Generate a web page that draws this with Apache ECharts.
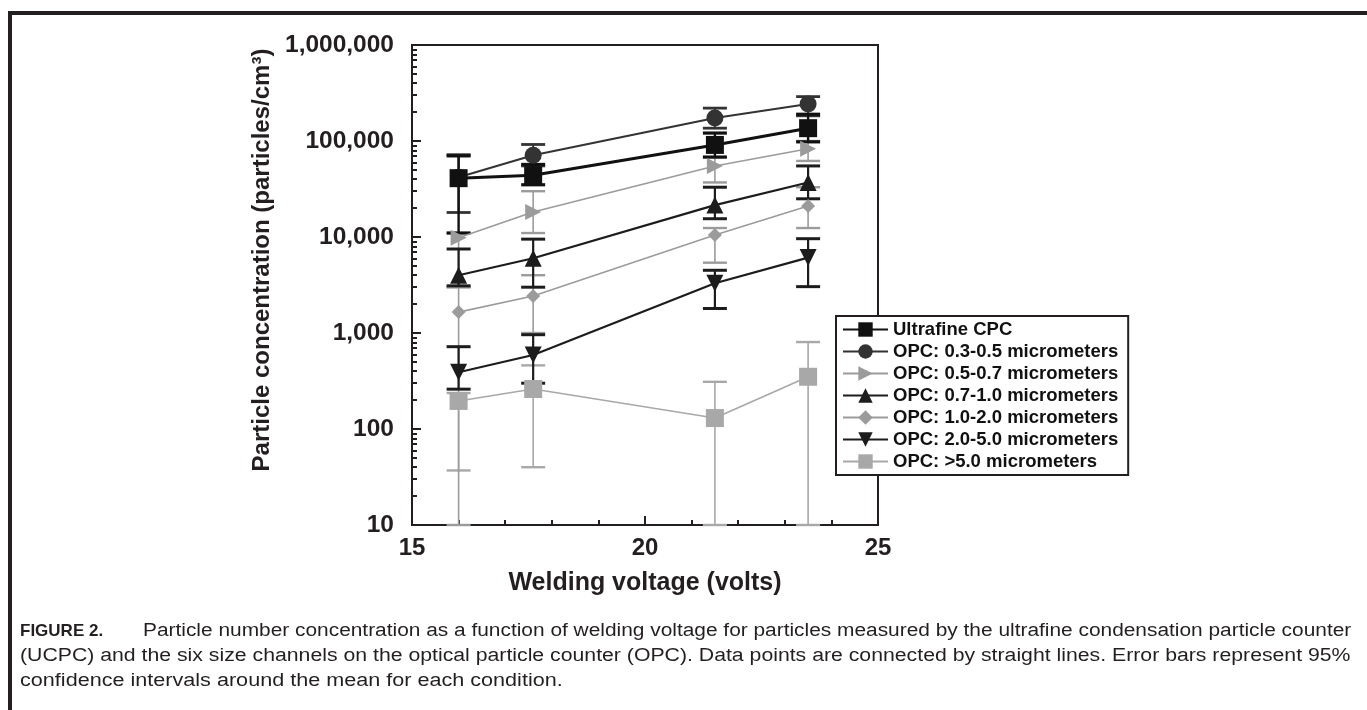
<!DOCTYPE html>
<html>
<head>
<meta charset="utf-8">
<script src="https://cdn.jsdelivr.net/npm/echarts@6/dist/echarts.min.js"></script>
<style>
  html, body { margin: 0; padding: 0; background: #fff; }
  #chart { width: 1367px; height: 710px; }
</style>
</head>
<body>
<div id="chart"></div>
<script>
// welding voltage (volts)
const voltage = [16, 17.6, 21.5, 23.5]

const seriesNames = [
    'Ultrafine CPC',
    'OPC: 0.3-0.5 micrometers',
    'OPC: 0.5-0.7 micrometers',
    'OPC: 0.7-1.0 micrometers',
    'OPC: 1.0-2.0 micrometers',
    'OPC: 2.0-5.0 micrometers',
    'OPC: >5.0 micrometers'
]

// mean concentration (particles/cm3)
const ucpc   = [41000, 44000, 91000, 136000]
const opc03  = [42000, 71000, 174000, 243000]
const opc05  = [9800, 18200, 55000, 83000]
const opc07  = [4000, 6000, 21500, 37000]
const opc10  = [1650, 2430, 10500, 21000]
const opc20  = [390, 590, 3300, 6100]
const opc50  = [196, 261, 130, 350]

// 95% confidence interval, low / high
const ucpcLo  = [11000, 35000, 68000, 98000]
const ucpcHi  = [70000, 57000, 121000, 190000]
const opc03Lo = [18000, 55000, 136000, 183000]
const opc03Hi = [72000, 92000, 220000, 290000]
const opc05Lo = [3000, 11000, 37000, 62000]
const opc05Hi = [11000, 30000, 68000, 100000]
const opc07Lo = [3100, 3000, 15500, 25000]
const opc07Hi = [7500, 9500, 33000, 55000]
const opc10Lo = [5, 1000, 5400, 12400]
const opc10Hi = [3000, 4000, 12400, 33000]
const opc20Lo = [260, 300, 1800, 3040]
const opc20Hi = [720, 960, 4500, 9600]
const opc50Lo = [37, 40, 5, 5]
const opc50Hi = [237, 460, 310, 805]

const yTicks = [10, 100, 1000, 10000, 100000, 1000000]
const yTickLabels = ['10', '100', '1,000', '10,000', '100,000', '1,000,000']
const xTicks = [15, 20, 25]
const xTickLabels = ['15', '20', '25']

const means = [ucpc, opc03, opc05, opc07, opc10, opc20, opc50]
const lows = [ucpcLo, opc03Lo, opc05Lo, opc07Lo, opc10Lo, opc20Lo, opc50Lo]
const highs = [ucpcHi, opc03Hi, opc05Hi, opc07Hi, opc10Hi, opc20Hi, opc50Hi]

const captionLines = [
    'Particle number concentration as a function of welding voltage for particles measured by the ultrafine condensation particle counter',
    '(UCPC) and the six size channels on the optical particle counter (OPC). Data points are connected by straight lines. Error bars represent 95%',
    'confidence intervals around the mean for each condition.'
]

const ink = '#231f20'
const dark = '#1c1c1c'
const gray = '#9b9b9b'

const looks = [
    {color: '#111', symbol: 'rect', size: 18, rotate: 0, width: 3},
    {color: '#333', symbol: 'circle', size: 17, rotate: 0, width: 2},
    {color: gray, symbol: 'triangle', size: 16, rotate: -90, width: 1.6},
    {color: dark, symbol: 'triangle', size: 17, rotate: 0, width: 2.2},
    {color: gray, symbol: 'diamond', size: 14, rotate: 0, width: 1.6},
    {color: dark, symbol: 'triangle', size: 17, rotate: 180, width: 2.2},
    {color: '#a8a8a8', symbol: 'rect', size: 18, rotate: 0, width: 1.6}
]

// minor ticks at 2..9 of each decade
const minorTicks = []
for (let d = 10; d < 1000000; d *= 10) {
    for (let k = 2; k <= 9; k++) minorTicks.push(d * k)
}

const yMin = 10

function errorBars(color, width) {
    return function (params, api) {
        const x = api.value(0)
        const lo = Math.max(api.value(1), yMin)
        const hi = api.value(2)
        const top = api.coord([x, hi])
        const bot = api.coord([x, lo])
        const hw = 12
        const style = {stroke: color, lineWidth: width}
        const capStyle = {stroke: color, lineWidth: width + 0.8}
        return {
            type: 'group',
            children: [
                {type: 'line', shape: {x1: top[0], y1: top[1], x2: bot[0], y2: bot[1]}, style},
                {type: 'line', shape: {x1: top[0] - hw, y1: top[1], x2: top[0] + hw, y2: top[1]}, style: capStyle},
                {type: 'line', shape: {x1: bot[0] - hw, y1: bot[1], x2: bot[0] + hw, y2: bot[1]}, style: capStyle}
            ]
        }
    }
}

const series = []
// error bars first, light ones below dark ones
const order = [6, 4, 2, 5, 3, 1, 0]
order.forEach(i => {
    series.push({
        type: 'custom',
        name: 'err' + i,
        renderItem: errorBars(looks[i].color, looks[i].width === 3 ? 2.4 : looks[i].width),
        encode: {x: 0, y: [1, 2]},
        data: voltage.map((v, j) => [v, lows[i][j], highs[i][j]]),
        z: 2,
        silent: true
    })
})
order.forEach(i => {
    series.push({
        type: 'line',
        name: seriesNames[i],
        data: voltage.map((v, j) => [v, means[i][j]]),
        symbol: looks[i].symbol,
        symbolSize: looks[i].size,
        symbolRotate: looks[i].rotate,
        itemStyle: {color: looks[i].color},
        lineStyle: {color: looks[i].color, width: looks[i].width},
        z: 3
    })
})

const captionScale = [1.16, 1.18, 1.2]
const captionText = captionLines.map((line, k) => ({
    type: 'text',
    x: k === 0 ? 143 : 20,
    y: 631 + 25 * k,
    scaleX: captionScale[k],
    style: {
        text: line,
        font: '18px "Liberation Sans"',
        fill: ink,
        verticalAlign: 'middle'
    }
}))

const myChart = echarts.init(document.getElementById('chart'))

const option = {
    animation: false,
    backgroundColor: '#fff',
    grid: {
        left: 412,
        right: 489,
        top: 45,
        bottom: 185,
        show: true,
        borderColor: ink,
        borderWidth: 2,
        backgroundColor: 'transparent'
    },
    legend: {
        orient: 'vertical',
        left: 836,
        top: 316,
        data: seriesNames,
        itemWidth: 45,
        itemHeight: 18,
        itemGap: 3,
        padding: [4, 10, 4, 6],
        borderColor: ink,
        borderWidth: 2,
        backgroundColor: '#fff',
        textStyle: {
            fontFamily: 'Liberation Sans',
            fontWeight: 'bold',
            fontSize: 18.5,
            color: '#111'
        }
    },
    xAxis: {
        type: 'value',
        min: 15,
        max: 25,
        interval: 5,
        name: 'Welding voltage (volts)',
        nameLocation: 'middle',
        nameGap: 46,
        nameTextStyle: {
            fontFamily: 'Liberation Sans',
            fontWeight: 'bold',
            fontSize: 25,
            color: ink
        },
        axisLine: {lineStyle: {color: ink, width: 2}},
        axisTick: {inside: true, length: 9, lineStyle: {color: ink, width: 2}},
        minorTick: {show: true, splitNumber: 5, length: 5, lineStyle: {color: ink, width: 2}},
        splitLine: {show: false},
        axisLabel: {
            margin: 11,
            fontFamily: 'Liberation Sans',
            fontWeight: 'bold',
            fontSize: 24,
            color: ink,
            formatter: v => xTickLabels[xTicks.indexOf(v)] || ''
        }
    },
    yAxis: [
        {
            type: 'log',
            logBase: 10,
            min: 10,
            max: 1000000,
            name: 'Particle concentration (particles/cm³)',
            nameLocation: 'middle',
            nameGap: 138,
            nameTextStyle: {
                fontFamily: 'Liberation Sans',
                fontWeight: 'bold',
                fontSize: 24,
                color: ink,
                padding: [0, 0, 0, 50]
            },
            axisLine: {show: true, lineStyle: {color: ink, width: 2}},
            axisTick: {inside: true, length: 9, lineStyle: {color: ink, width: 2}},
            splitLine: {show: false},
            axisLabel: {
                margin: 18,
                fontFamily: 'Liberation Sans',
                fontWeight: 'bold',
                fontSize: 24.5,
                color: ink,
                formatter: v => yTickLabels[yTicks.indexOf(Math.round(v))] || ''
            }
        },
        {
            type: 'log',
            logBase: 10,
            min: 10,
            max: 1000000,
            position: 'left',
            axisLine: {show: false},
            axisLabel: {show: false},
            splitLine: {show: false},
            axisTick: {
                show: true,
                inside: true,
                length: 5,
                customValues: minorTicks,
                lineStyle: {color: ink, width: 2}
            }
        }
    ],
    graphic: [
        {
            type: 'line',
            shape: {x1: 10, y1: 11, x2: 10, y2: 710},
            style: {stroke: ink, lineWidth: 4}
        },
        {
            type: 'line',
            shape: {x1: 8, y1: 13, x2: 1367, y2: 13},
            style: {stroke: ink, lineWidth: 4}
        },
        {
            type: 'text',
            x: 20,
            y: 631,
            style: {
                text: 'FIGURE 2.',
                font: 'bold 17px "Liberation Sans"',
                fill: ink,
                verticalAlign: 'middle'
            }
        }
    ].concat(captionText),
    series: series
}

myChart.setOption(option)
</script>
</body>
</html>
